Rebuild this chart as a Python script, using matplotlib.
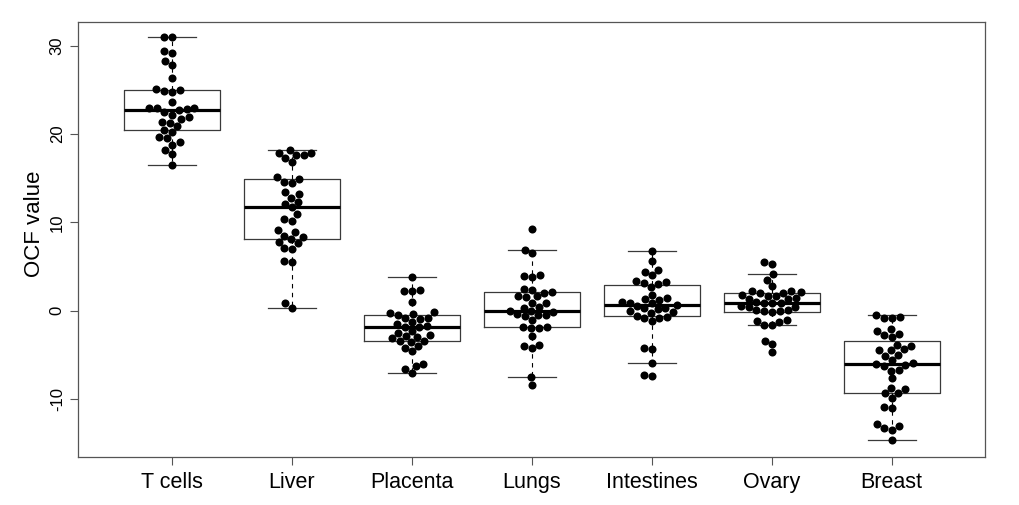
import math
import numpy as np
import matplotlib
matplotlib.use("Agg")
import matplotlib.pyplot as plt

categories = ["T cells", "Liver", "Placenta", "Lungs", "Intestines", "Ovary", "Breast"]

t_cells = [31.0, 31.0, 29.4, 29.2, 28.3, 27.8, 26.4, 25.1, 25.0, 24.9, 24.8, 23.6,
           23.0, 23.0, 22.9, 22.8, 22.7, 22.5, 22.2, 21.9, 21.7, 21.4, 21.2, 20.9,
           20.5, 20.2, 19.7, 19.5, 19.1, 18.8, 18.2, 17.7, 16.5]
liver = [18.2, 17.8, 17.6, 17.6, 17.8, 17.3, 16.8, 15.1, 14.9, 14.6, 14.5, 13.4,
         13.2, 12.8, 12.3, 12.1, 11.7, 10.9, 10.4, 10.2, 9.1, 8.9, 8.5, 8.3, 8.1,
         7.8, 7.6, 7.1, 7.0, 5.6, 5.5, 0.8, 0.3]
placenta = [3.85, 2.3, 2.2, 2.2, 1.0, -0.2, -0.3, -0.4, -0.5, -0.8, -0.9, -1.0,
            -1.3, -1.5, -1.8, -1.85, -1.9, -2.3, -2.5, -2.8, -2.9, -3.0, -3.1,
            -3.4, -3.5, -3.6, -4.0, -4.2, -4.6, -6.1, -6.3, -6.6, -7.1]
lungs = [9.2, 6.9, 6.5, 4.0, 3.9, 3.8, 2.4, 2.3, 2.1, 2.0, 1.7, 1.6, 1.5, 0.9,
         0.8, 0.4, 0.3, 0.0, -0.1, -0.2, -0.4, -0.5, -0.5, -0.6, -1.1, -1.9,
         -1.9, -1.95, -2.0, -2.9, -3.9, -4.0, -4.2, -7.5, -8.4]
intestines = [6.7, 5.6, 4.6, 4.4, 4.0, 3.3, 3.2, 3.1, 3.0, 2.7, 1.8, 1.4, 1.3,
              1.2, 1.0, 0.9, 0.8, 0.65, 0.5, 0.3, 0.25, 0.2, -0.1, -0.15, -0.3,
              -0.65, -0.7, -0.8, -0.9, -1.2, -4.3, -4.4, -5.9, -7.3, -7.4]
ovary = [5.45, 5.3, 4.1, 3.5, 2.8, 2.25, 2.2, 2.1, 2.0, 2.0, 1.8, 1.7, 1.6, 1.4,
         1.35, 1.3, 1.0, 0.9, 0.85, 0.8, 0.5, 0.45, 0.4, 0.1, 0.05, 0.0, -0.1,
         -0.15, -1.1, -1.2, -1.25, -1.6, -1.65, -3.4, -3.8, -4.75]
breast = [-0.55, -0.75, -0.8, -0.9, -2.1, -2.3, -2.7, -2.8, -3.0, -3.9, -4.0,
          -4.4, -4.5, -4.5, -5.0, -5.1, -5.6, -6.0, -6.1, -6.2, -6.3, -6.7, -6.8,
          -7.7, -8.8, -8.9, -9.3, -9.4, -9.9, -10.9, -11.0, -12.9, -13.1, -13.3,
          -13.5, -14.7]

groups = [t_cells, liver, placenta, lungs, intestines, ovary, breast]
yticks = [-10, 0, 10, 20, 30]
ylabel = "OCF value"

plt.rcParams["font.family"] = ["Liberation Sans", "DejaVu Sans"]

W, H = 1020, 505
fig = plt.figure(figsize=(W / 100, H / 100), dpi=100)
left, right, top, bottom = 78.4, 985.3, 22.0, 457.0
ax = fig.add_axes([left / W, (H - bottom) / H, (right - left) / W, (bottom - top) / H])
ax.set_xlim(0.22, 7.78)
ax.set_ylim(-16.6, 32.7)

positions = np.arange(1, len(groups) + 1)


def fivenum(v):
    x = np.sort(np.asarray(v, dtype=float))
    n = len(x)
    n4 = math.floor((n + 3) / 2) / 2
    d = [1, n4, (n + 1) / 2, n + 1 - n4, n]
    return [0.5 * (x[math.floor(di) - 1] + x[math.ceil(di) - 1]) for di in d]


stats = []
for v in groups:
    mn, q1, med, q3, mx = fivenum(v)
    iqr = q3 - q1
    arr = np.asarray(v)
    hi = arr[arr <= q3 + 1.5 * iqr].max()
    lo = arr[arr >= q1 - 1.5 * iqr].min()
    stats.append(dict(med=med, q1=q1, q3=q3, whislo=lo, whishi=hi, fliers=[]))

edge = "#3a3a3a"
ax.bxp(stats, positions=positions, widths=0.8, showfliers=False,
       boxprops=dict(color=edge, linewidth=0.9),
       medianprops=dict(color="black", linewidth=2.3, solid_capstyle="butt"),
       whiskerprops=dict(color="black", linewidth=0.8, linestyle=(0, (4, 4))),
       capprops=dict(color=edge, linewidth=0.9), zorder=2)

# beeswarm layout in pixel space
px_per_x = (right - left) / (7.78 - 0.22)
px_per_y = (bottom - top) / (32.7 + 16.6)
diam = 8.0


def swarm(values):
    vals = np.asarray(values, dtype=float)
    order = np.argsort(vals, kind="stable")
    placed = []
    offs = np.zeros(len(vals))
    for i in order:
        y = vals[i] * px_per_y
        cands = [0.0]
        for (px, py) in placed:
            ddy = abs(py - y)
            if ddy < diam:
                w = math.sqrt(diam ** 2 - ddy ** 2)
                cands += [px + w, px - w]
        cands = sorted(cands, key=lambda c: (abs(c), c))
        chosen = 0.0
        for c in cands:
            if all((c - px) ** 2 + (y - py) ** 2 >= diam ** 2 - 1e-6 for px, py in placed):
                chosen = c
                break
        placed.append((chosen, y))
        offs[i] = chosen / px_per_x
    return offs


for pos, v in zip(positions, groups):
    offs = swarm(v)
    ax.plot(pos + offs, v, "o", color="black", markersize=5.8, markeredgewidth=0, zorder=5)

ax.set_xticks(positions)
ax.set_xticklabels(categories, fontsize=15.5)
ax.set_yticks(yticks)
ax.set_yticklabels([str(t) for t in yticks], rotation=90, va="center", fontsize=12)
ax.set_ylabel(ylabel, fontsize=16)
ax.yaxis.label.set_va("center")
ax.yaxis.set_label_coords((34 - left) / (right - left), (bottom - 224) / (bottom - top))
for s in ax.spines.values():
    s.set_color("#555555")
    s.set_linewidth(0.9)
ax.tick_params(axis="both", direction="out", length=5.8, width=0.8, color="#555555")
ax.tick_params(axis="x", pad=5)
ax.tick_params(axis="y", pad=4)

fig.savefig("out.png", dpi=100)
